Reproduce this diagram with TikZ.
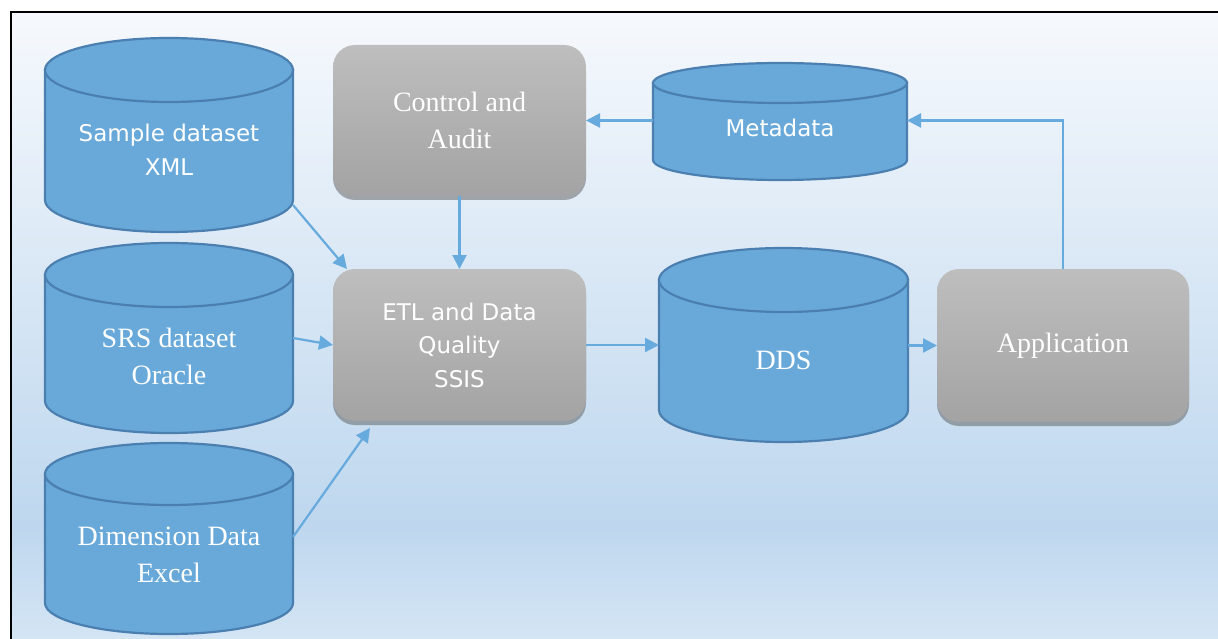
\documentclass[tikz,border=0pt]{standalone}
\usepackage{fontspec}
\setmainfont{Liberation Serif}
\newfontfamily\dbsans{DejaVu Sans}
\usetikzlibrary{arrows.meta,shadows}
\definecolor{dbblue}{HTML}{68A9DA}
\definecolor{dbedge}{HTML}{4A7FAF}
\definecolor{linkblue}{HTML}{67AADD}
\definecolor{boxtop}{HTML}{BEBEBE}
\definecolor{boxbot}{HTML}{A3A3A3}
\definecolor{bgA}{HTML}{F6F9FD}
\definecolor{bgB}{HTML}{BED7EE}
\definecolor{bgC}{HTML}{D4E5F4}
\pgfdeclareverticalshading{bgfade}{100bp}{color(0bp)=(bgC); color(25bp)=(bgC); color(34bp)=(bgB); color(75bp)=(bgA); color(100bp)=(bgA)}
\tikzstyle{arrow} = [line width=2.2pt, draw=linkblue, -{Triangle[length=14pt,width=14pt]}]
\tikzstyle{dbshape} = [fill=dbblue, draw=dbedge, line width=2.2pt]
\tikzstyle{box} = [rounded corners=22pt, top color=boxtop, bottom color=boxbot, text=white, align=center, inner sep=0pt, outer sep=0pt, drop shadow={shadow xshift=0pt, shadow yshift=-4pt, opacity=0.45, fill=black!70}]
\tikzstyle{dbtext} = [text=white, align=center, inner sep=0pt, outer sep=0pt]
\tikzstyle{serif} = [font=\rmfamily\fontsize{28}{37}\selectfont]
\tikzstyle{sans} = [font=\dbsans\fontsize{23}{33.5}\selectfont]
% cylinder: left x, right x, top centre y, bottom centre y, y radius
\newcommand{\dbcyl}[5]{%
  \path[dbshape] (#1,#3) -- (#1,#4) arc[start angle=180, end angle=0, x radius={(#2-#1)/2}, y radius=#5] -- (#2,#3) -- cycle;
  \path[dbshape] ({(#1+#2)/2},#3) ellipse[x radius={(#2-#1)/2}, y radius=#5];
}

\begin{document}
\begin{tikzpicture}[x=1pt, y=-1pt]
  \useasboundingbox (0,0) rectangle (1218,639);
  \shade[shading=bgfade] (11,12) rectangle (1218,639);
  \draw[line width=2pt, line cap=rect] (11,639) -- (11,12) -- (1218,12);

  % data stores
  \dbcyl{45}{293}{70}{200}{32}
  \dbcyl{45}{293}{275}{401}{32}
  \dbcyl{45}{293}{474}{603}{31}
  \dbcyl{653}{907}{83}{160}{20}
  \dbcyl{659}{908}{280}{410}{32}
  \node[dbtext, sans, minimum width=248pt] (sample) at (169,150) {Sample dataset\\XML};
  \node[dbtext, serif, minimum width=248pt] (srs) at (169,356) {SRS dataset\\Oracle};
  \node[dbtext, serif, minimum width=248pt] (dim) at (169,555) {Dimension Data\\Excel};
  \node[dbtext, sans, minimum width=254pt] (meta) at (780,128) {Metadata};
  \node[dbtext, serif, minimum width=249pt] (dds) at (783.5,360) {DDS};

  % processes
  \node[box, serif, minimum width=253pt, minimum height=151pt] (control) at (459.5,120.5) {Control and\\Audit};
  \node[box, sans, minimum width=253pt, minimum height=152pt] (etl) at (459.5,345) {ETL and Data\\Quality\\SSIS};
  \node[box, serif, minimum width=252pt, minimum height=153pt] (app) at (1063,345.5) {Application};

  \draw[arrow] ([yshift=-55pt]sample.east) -- ([xshift=14pt]etl.north west);
  \draw[arrow] ([yshift=18pt]srs.east) -- (etl.west);
  \draw[arrow] ([yshift=18pt]dim.east) -- ([xshift=37pt,yshift=-7pt]etl.south west);
  \draw[arrow] (control.south) -- (etl.north);
  \draw[arrow] (etl.east) -- (etl.east -| dds.west);
  \draw[arrow] (dds.east |- app.west) -- (app.west);
  \draw[arrow] (app.north) -- (app.north |- control.east) -- (meta.east |- control.east);
  \draw[arrow] (meta.west |- control.east) -- (control.east);
\end{tikzpicture}
\end{document}
